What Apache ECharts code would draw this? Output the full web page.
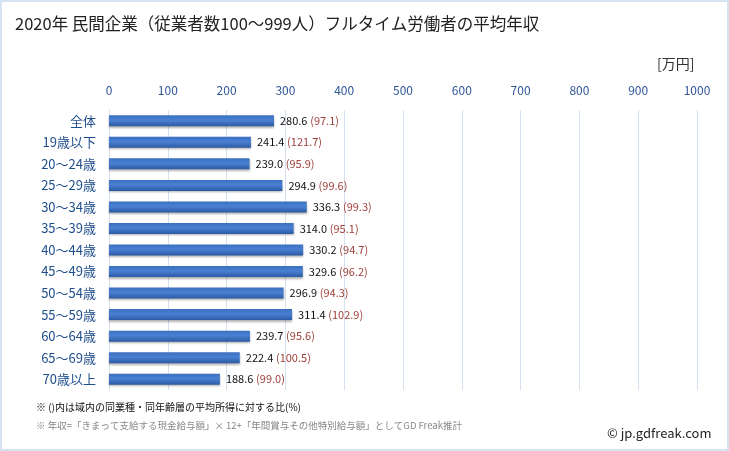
<!DOCTYPE html>
<html><head><meta charset="utf-8">
<script src="https://cdn.jsdelivr.net/npm/echarts@6/dist/echarts.min.js"></script>
<style>html,body{margin:0;padding:0;background:#fff}#c{width:729px;height:451px}</style>
</head><body><div id="c"></div>
<script>
const categories = ["全体","19歳以下","20～24歳","25～29歳","30～34歳","35～39歳","40～44歳","45～49歳","50～54歳","55～59歳","60～64歳","65～69歳","70歳以上"];
const incomes = [280.6,241.4,239.0,294.9,336.3,314.0,330.2,329.6,296.9,311.4,239.7,222.4,188.6];
const ratios = [97.1,121.7,95.9,99.6,99.3,95.1,94.7,96.2,94.3,102.9,95.6,100.5,99.0];
const xTicks = [0,100,200,300,400,500,600,700,800,900,1000];

const font = '"Noto Sans CJK JP", "Noto Sans", sans-serif';
const chart = echarts.init(document.getElementById('c'), null, {renderer:'canvas'});
chart.setOption({
  animation:false,
  textStyle:{fontFamily:font},
  title:{text:"2020年 民間企業（従業者数100～999人）フルタイム労働者の平均年収",left:10,top:10,
    textStyle:{fontFamily:font,fontSize:16.5,fontWeight:'normal',color:'#222'}},
  grid:{left:109,right:32,top:110,bottom:61,containLabel:false},
  xAxis:{type:'value',position:'top',min:xTicks[0],max:xTicks[xTicks.length-1],interval:100,
    axisLine:{show:false},axisTick:{show:false},
    axisLabel:{color:'#2f5597',fontSize:12,fontFamily:font,margin:14,formatter:v=>String(v)},
    splitLine:{show:true,lineStyle:{color:'#d5e1ef',width:1}}},
  yAxis:{type:'category',inverse:true,data:categories,
    axisLine:{show:true,lineStyle:{color:'#d5e1ef'}},axisTick:{show:false},
    axisLabel:{color:'#1f4e8c',fontSize:13,fontFamily:font,margin:13}},
  series:[{type:'bar',data:incomes,barWidth:11,
    itemStyle:{color:new echarts.graphic.LinearGradient(0,0,0,1,[
      {offset:0,color:'#3b70c0'},{offset:0.45,color:'#4a80d2'},{offset:1,color:'#2b5aa3'}]),
      shadowColor:'rgba(0,0,0,0.3)',shadowBlur:2,shadowOffsetY:1.5},
    label:{show:true,position:'right',distance:6,
      formatter:p=>'{a|'+p.value.toFixed(1)+'} {b|('+ratios[p.dataIndex].toFixed(1)+')}',
      rich:{a:{color:'#111',fontSize:11,fontFamily:font},b:{color:'#a0403a',fontSize:11,fontFamily:font}}}
  }],
  graphic:[
    {type:'rect',shape:{x:1,y:1,width:727,height:449},style:{fill:'none',stroke:'#d6e3f2',lineWidth:2},silent:true},
    {type:'text',left:657,top:57,style:{text:'[万円]',fontSize:14,fontFamily:font,fill:'#333'}},
    {type:'text',left:36,top:402,style:{text:'※ ()内は域内の同業種・同年齢層の平均所得に対する比(%)',fontSize:10,fontFamily:font,fill:'#111'}},
    {type:'text',left:36,top:421,style:{text:'※ 年収=「きまって支給する現金給与額」× 12+「年間賞与その他特別給与額」としてGD Freak推計',fontSize:9.5,fontFamily:font,fill:'#888'}},
    {type:'text',left:607,top:427,style:{text:'© jp.gdfreak.com',fontSize:13,fontFamily:font,fill:'#222'}}
  ]
});
</script></body></html>
